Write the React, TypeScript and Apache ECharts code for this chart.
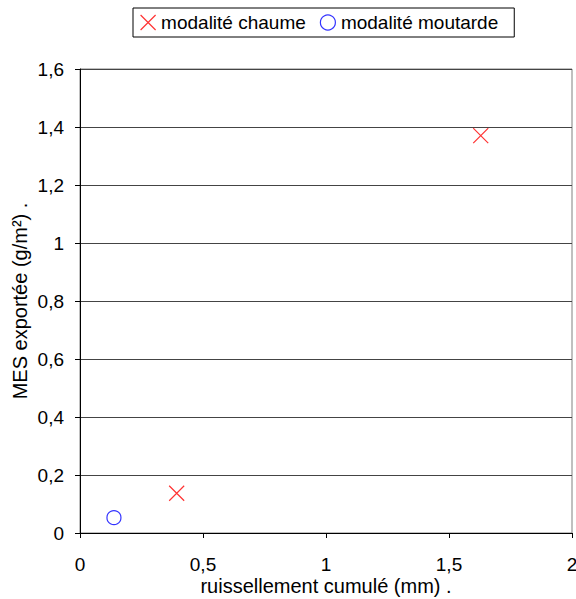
import React, { useEffect, useRef } from "react";
import * as echarts from "echarts";

const chaumeX = [0.393, 1.629];
const chaumeY = [0.137, 1.37];
const moutardeX = [0.138];
const moutardeY = [0.053];
const seriesNames = ["modalité chaume", "modalité moutarde"];
const xTitle = "ruissellement cumulé (mm) .";
const yTitle = "MES exportée (g/m²) .";

const CROSS = "path://M0,0L10,10M10,0L0,10";
const FONT = "Liberation Sans, Arial, sans-serif";

const fmt = (v: number) => String(Number(v.toFixed(2))).replace(".", ",");

export default function App() {
  const ref = useRef<HTMLDivElement>(null);
  useEffect(() => {
    if (!ref.current) return;
    const chart = echarts.init(ref.current, undefined, { renderer: "svg" });
    chart.setOption({
      animation: false,
      backgroundColor: "#fff",
      textStyle: { fontFamily: FONT },
      legend: {
        left: 133,
        top: 8,
        padding: [5, 16, 5, 7],
        itemGap: 14,
        itemWidth: 16,
        itemHeight: 15,
        itemTextGap: 5,
        backgroundColor: "#fff",
        borderColor: "#000",
        borderWidth: 1,
        textStyle: { fontSize: 19, color: "#000", fontFamily: FONT },
        data: [
          { name: seriesNames[0], icon: CROSS, itemStyle: { color: "#ff0000", borderColor: "#ff0000", borderWidth: 1.2 } },
          { name: seriesNames[1], icon: "circle", itemStyle: { color: "#fff", borderColor: "#0000ff", borderWidth: 1.2 } },
        ],
      },
      grid: {
        left: 80,
        right: 4,
        top: 69,
        bottom: 66,
        outerBoundsMode: "none",
        containLabel: false,
        show: true,
        borderColor: "#808080",
        borderWidth: 1,
        backgroundColor: "transparent",
      },
      xAxis: {
        type: "value",
        min: 0,
        max: 2,
        interval: 0.5,
        name: xTitle,
        nameLocation: "middle",
        nameGap: 43,
        nameMoveOverlap: false,
        nameTextStyle: { fontSize: 20, lineHeight: 20, color: "#000", fontFamily: FONT },
        axisLine: { show: true, onZero: false, lineStyle: { color: "#000" } },
        axisTick: { show: true, length: 5, lineStyle: { color: "#000" } },
        axisLabel: { fontSize: 19, lineHeight: 14, color: "#000", margin: 24, formatter: fmt, fontFamily: FONT },
        splitLine: { show: false },
      },
      yAxis: {
        type: "value",
        min: 0,
        max: 1.6,
        interval: 0.2,
        name: yTitle,
        nameLocation: "middle",
        nameGap: 50,
        nameMoveOverlap: false,
        nameTextStyle: { fontSize: 20, color: "#000", fontFamily: FONT },
        axisLine: { show: true, onZero: false, lineStyle: { color: "#000" } },
        axisTick: { show: true, length: 5, lineStyle: { color: "#000" } },
        axisLabel: { fontSize: 19, color: "#000", margin: 16, formatter: fmt, fontFamily: FONT },
        splitLine: { show: true, lineStyle: { color: "#444", width: 1 } },
      },
      series: [
        {
          name: seriesNames[0],
          type: "scatter",
          symbol: CROSS,
          symbolSize: 15,
          data: chaumeX.map((x, i) => [x, chaumeY[i]]),
          itemStyle: { color: "#ff0000", borderColor: "#ff0000", borderWidth: 1.2 },
        },
        {
          name: seriesNames[1],
          type: "scatter",
          symbol: "circle",
          symbolSize: 14,
          data: moutardeX.map((x, i) => [x, moutardeY[i]]),
          itemStyle: { color: "#fff", borderColor: "#0000ff", borderWidth: 1.2 },
        },
      ],
    });
    return () => chart.dispose();
  }, []);
  return <div ref={ref} style={{ width: 576, height: 599, position: "absolute", left: 0, top: 0 }} />;
}
